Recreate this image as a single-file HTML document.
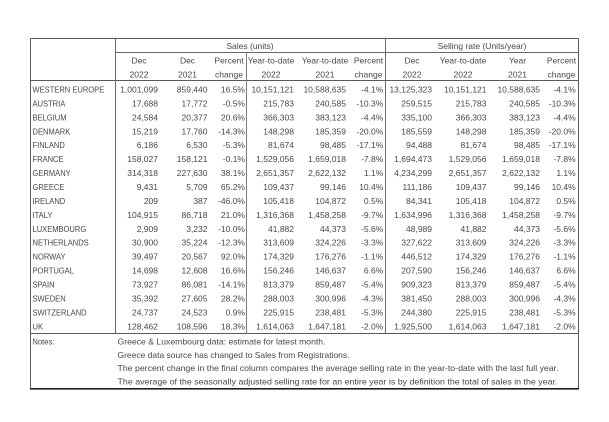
<!DOCTYPE html>
<html>
<head>
<meta charset="utf-8">
<style>
  html, body { margin: 0; padding: 0; background: #ffffff; }
  svg { display: block; }
  text { font-family: "Liberation Sans", Arial, sans-serif; font-size: 8.5px; fill: #474747; }
  .e { text-anchor: end; }
  .m { text-anchor: middle; }
</style>
</head>
<body>
<svg width="609" height="422" viewBox="0 0 609 422" xmlns="http://www.w3.org/2000/svg">
  <rect x="0" y="0" width="609" height="422" fill="#ffffff"/>

  <!-- grid lines -->
  <g stroke="#5a5a5a" stroke-width="1" fill="none">
    <line x1="30.5" y1="38.5" x2="578.5" y2="38.5"/>
    <line x1="30.5" y1="38.5" x2="30.5" y2="389"/>
    <line x1="578.5" y1="38.5" x2="578.5" y2="389"/>
    <line x1="115.5" y1="52.5" x2="578.5" y2="52.5" stroke="#6a6a6a"/>
    <line x1="30.5" y1="80.5" x2="578.5" y2="80.5"/>
    <line x1="30.5" y1="333.5" x2="578.5" y2="333.5"/>
    <line x1="115.5" y1="38.5" x2="115.5" y2="333.5" stroke="#6a6a6a"/>
    <line x1="246.5" y1="52.5" x2="246.5" y2="333.5" stroke="#7a7a7a"/>
    <line x1="385.5" y1="38.5" x2="385.5" y2="333.5" stroke="#6a6a6a"/>
  </g>
  <rect x="30" y="388" width="549" height="1.6" fill="#1e1e1e"/>

  <!-- header row 1 -->
  <text class="m" x="250" y="49">Sales (units)</text>
  <text class="m" x="482" y="49">Selling rate (Units/year)</text>

  <!-- header row 2 -->
  <text class="m" x="139" y="63.5">Dec</text>
  <text class="m" x="187.5" y="63.5">Dec</text>
  <text class="m" x="229" y="63.5">Percent</text>
  <text class="m" x="271" y="63.5">Year-to-date</text>
  <text class="m" x="325" y="63.5">Year-to-date</text>
  <text class="m" x="368.5" y="63.5">Percent</text>
  <text class="m" x="412" y="63.5">Dec</text>
  <text class="m" x="463" y="63.5">Year-to-date</text>
  <text class="m" x="517.5" y="63.5">Year</text>
  <text class="m" x="561.5" y="63.5">Percent</text>

  <!-- header row 3 -->
  <text class="m" x="139" y="77.7">2022</text>
  <text class="m" x="187.5" y="77.7">2021</text>
  <text class="m" x="229" y="77.7">change</text>
  <text class="m" x="271" y="77.7">2022</text>
  <text class="m" x="325" y="77.7">2021</text>
  <text class="m" x="368.5" y="77.7">change</text>
  <text class="m" x="412" y="77.7">2022</text>
  <text class="m" x="463" y="77.7">2022</text>
  <text class="m" x="517.5" y="77.7">2021</text>
  <text class="m" x="561.5" y="77.7">change</text>

  <!-- row labels -->
  <g transform="translate(32.5 0) scale(0.89 1)">
    <text x="0" y="92.5">WESTERN EUROPE</text>
    <text x="0" y="106.4">AUSTRIA</text>
    <text x="0" y="120.4">BELGIUM</text>
    <text x="0" y="134.3">DENMARK</text>
    <text x="0" y="148.2">FINLAND</text>
    <text x="0" y="162.2">FRANCE</text>
    <text x="0" y="176.1">GERMANY</text>
    <text x="0" y="190.0">GREECE</text>
    <text x="0" y="203.9">IRELAND</text>
    <text x="0" y="217.9">ITALY</text>
    <text x="0" y="231.8">LUXEMBOURG</text>
    <text x="0" y="245.7">NETHERLANDS</text>
    <text x="0" y="259.7">NORWAY</text>
    <text x="0" y="273.6">PORTUGAL</text>
    <text x="0" y="287.5">SPAIN</text>
    <text x="0" y="301.5">SWEDEN</text>
    <text x="0" y="315.4">SWITZERLAND</text>
    <text x="0" y="329.3">UK</text>
    <text x="0" y="344.7">Notes:</text>
  </g>

  <!-- data -->
  <g class="e">
    <!-- WESTERN EUROPE -->
    <text class="e" x="158" y="92.5">1,001,099</text>
    <text class="e" x="207.5" y="92.5">859,440</text>
    <text class="e" x="245" y="92.5">16.5%</text>
    <text class="e" x="294" y="92.5">10,151,121</text>
    <text class="e" x="346" y="92.5">10,588,635</text>
    <text class="e" x="383.3" y="92.5">-4.1%</text>
    <text class="e" x="432" y="92.5">13,125,323</text>
    <text class="e" x="486.5" y="92.5">10,151,121</text>
    <text class="e" x="540" y="92.5">10,588,635</text>
    <text class="e" x="575.7" y="92.5">-4.1%</text>
    <!-- AUSTRIA -->
    <text class="e" x="158" y="106.4">17,688</text>
    <text class="e" x="207.5" y="106.4">17,772</text>
    <text class="e" x="245" y="106.4">-0.5%</text>
    <text class="e" x="294" y="106.4">215,783</text>
    <text class="e" x="346" y="106.4">240,585</text>
    <text class="e" x="383.3" y="106.4">-10.3%</text>
    <text class="e" x="432" y="106.4">259,515</text>
    <text class="e" x="486.5" y="106.4">215,783</text>
    <text class="e" x="540" y="106.4">240,585</text>
    <text class="e" x="575.7" y="106.4">-10.3%</text>
    <!-- BELGIUM -->
    <text class="e" x="158" y="120.4">24,584</text>
    <text class="e" x="207.5" y="120.4">20,377</text>
    <text class="e" x="245" y="120.4">20.6%</text>
    <text class="e" x="294" y="120.4">366,303</text>
    <text class="e" x="346" y="120.4">383,123</text>
    <text class="e" x="383.3" y="120.4">-4.4%</text>
    <text class="e" x="432" y="120.4">335,100</text>
    <text class="e" x="486.5" y="120.4">366,303</text>
    <text class="e" x="540" y="120.4">383,123</text>
    <text class="e" x="575.7" y="120.4">-4.4%</text>
    <!-- DENMARK -->
    <text class="e" x="158" y="134.3">15,219</text>
    <text class="e" x="207.5" y="134.3">17,760</text>
    <text class="e" x="245" y="134.3">-14.3%</text>
    <text class="e" x="294" y="134.3">148,298</text>
    <text class="e" x="346" y="134.3">185,359</text>
    <text class="e" x="383.3" y="134.3">-20.0%</text>
    <text class="e" x="432" y="134.3">185,559</text>
    <text class="e" x="486.5" y="134.3">148,298</text>
    <text class="e" x="540" y="134.3">185,359</text>
    <text class="e" x="575.7" y="134.3">-20.0%</text>
    <!-- FINLAND -->
    <text class="e" x="158" y="148.2">6,186</text>
    <text class="e" x="207.5" y="148.2">6,530</text>
    <text class="e" x="245" y="148.2">-5.3%</text>
    <text class="e" x="294" y="148.2">81,674</text>
    <text class="e" x="346" y="148.2">98,485</text>
    <text class="e" x="383.3" y="148.2">-17.1%</text>
    <text class="e" x="432" y="148.2">94,488</text>
    <text class="e" x="486.5" y="148.2">81,674</text>
    <text class="e" x="540" y="148.2">98,485</text>
    <text class="e" x="575.7" y="148.2">-17.1%</text>
    <!-- FRANCE -->
    <text class="e" x="158" y="162.2">158,027</text>
    <text class="e" x="207.5" y="162.2">158,121</text>
    <text class="e" x="245" y="162.2">-0.1%</text>
    <text class="e" x="294" y="162.2">1,529,056</text>
    <text class="e" x="346" y="162.2">1,659,018</text>
    <text class="e" x="383.3" y="162.2">-7.8%</text>
    <text class="e" x="432" y="162.2">1,694,473</text>
    <text class="e" x="486.5" y="162.2">1,529,056</text>
    <text class="e" x="540" y="162.2">1,659,018</text>
    <text class="e" x="575.7" y="162.2">-7.8%</text>
    <!-- GERMANY -->
    <text class="e" x="158" y="176.1">314,318</text>
    <text class="e" x="207.5" y="176.1">227,630</text>
    <text class="e" x="245" y="176.1">38.1%</text>
    <text class="e" x="294" y="176.1">2,651,357</text>
    <text class="e" x="346" y="176.1">2,622,132</text>
    <text class="e" x="383.3" y="176.1">1.1%</text>
    <text class="e" x="432" y="176.1">4,234,299</text>
    <text class="e" x="486.5" y="176.1">2,651,357</text>
    <text class="e" x="540" y="176.1">2,622,132</text>
    <text class="e" x="575.7" y="176.1">1.1%</text>
    <!-- GREECE -->
    <text class="e" x="158" y="190.0">9,431</text>
    <text class="e" x="207.5" y="190.0">5,709</text>
    <text class="e" x="245" y="190.0">65.2%</text>
    <text class="e" x="294" y="190.0">109,437</text>
    <text class="e" x="346" y="190.0">99,146</text>
    <text class="e" x="383.3" y="190.0">10.4%</text>
    <text class="e" x="432" y="190.0">111,186</text>
    <text class="e" x="486.5" y="190.0">109,437</text>
    <text class="e" x="540" y="190.0">99,146</text>
    <text class="e" x="575.7" y="190.0">10.4%</text>
    <!-- IRELAND -->
    <text class="e" x="158" y="203.9">209</text>
    <text class="e" x="207.5" y="203.9">387</text>
    <text class="e" x="245" y="203.9">-46.0%</text>
    <text class="e" x="294" y="203.9">105,418</text>
    <text class="e" x="346" y="203.9">104,872</text>
    <text class="e" x="383.3" y="203.9">0.5%</text>
    <text class="e" x="432" y="203.9">84,341</text>
    <text class="e" x="486.5" y="203.9">105,418</text>
    <text class="e" x="540" y="203.9">104,872</text>
    <text class="e" x="575.7" y="203.9">0.5%</text>
    <!-- ITALY -->
    <text class="e" x="158" y="217.9">104,915</text>
    <text class="e" x="207.5" y="217.9">86,718</text>
    <text class="e" x="245" y="217.9">21.0%</text>
    <text class="e" x="294" y="217.9">1,316,368</text>
    <text class="e" x="346" y="217.9">1,458,258</text>
    <text class="e" x="383.3" y="217.9">-9.7%</text>
    <text class="e" x="432" y="217.9">1,634,996</text>
    <text class="e" x="486.5" y="217.9">1,316,368</text>
    <text class="e" x="540" y="217.9">1,458,258</text>
    <text class="e" x="575.7" y="217.9">-9.7%</text>
    <!-- LUXEMBOURG -->
    <text class="e" x="158" y="231.8">2,909</text>
    <text class="e" x="207.5" y="231.8">3,232</text>
    <text class="e" x="245" y="231.8">-10.0%</text>
    <text class="e" x="294" y="231.8">41,882</text>
    <text class="e" x="346" y="231.8">44,373</text>
    <text class="e" x="383.3" y="231.8">-5.6%</text>
    <text class="e" x="432" y="231.8">48,989</text>
    <text class="e" x="486.5" y="231.8">41,882</text>
    <text class="e" x="540" y="231.8">44,373</text>
    <text class="e" x="575.7" y="231.8">-5.6%</text>
    <!-- NETHERLANDS -->
    <text class="e" x="158" y="245.7">30,900</text>
    <text class="e" x="207.5" y="245.7">35,224</text>
    <text class="e" x="245" y="245.7">-12.3%</text>
    <text class="e" x="294" y="245.7">313,609</text>
    <text class="e" x="346" y="245.7">324,226</text>
    <text class="e" x="383.3" y="245.7">-3.3%</text>
    <text class="e" x="432" y="245.7">327,622</text>
    <text class="e" x="486.5" y="245.7">313,609</text>
    <text class="e" x="540" y="245.7">324,226</text>
    <text class="e" x="575.7" y="245.7">-3.3%</text>
    <!-- NORWAY -->
    <text class="e" x="158" y="259.7">39,497</text>
    <text class="e" x="207.5" y="259.7">20,567</text>
    <text class="e" x="245" y="259.7">92.0%</text>
    <text class="e" x="294" y="259.7">174,329</text>
    <text class="e" x="346" y="259.7">176,276</text>
    <text class="e" x="383.3" y="259.7">-1.1%</text>
    <text class="e" x="432" y="259.7">446,512</text>
    <text class="e" x="486.5" y="259.7">174,329</text>
    <text class="e" x="540" y="259.7">176,276</text>
    <text class="e" x="575.7" y="259.7">-1.1%</text>
    <!-- PORTUGAL -->
    <text class="e" x="158" y="273.6">14,698</text>
    <text class="e" x="207.5" y="273.6">12,608</text>
    <text class="e" x="245" y="273.6">16.6%</text>
    <text class="e" x="294" y="273.6">156,246</text>
    <text class="e" x="346" y="273.6">146,637</text>
    <text class="e" x="383.3" y="273.6">6.6%</text>
    <text class="e" x="432" y="273.6">207,590</text>
    <text class="e" x="486.5" y="273.6">156,246</text>
    <text class="e" x="540" y="273.6">146,637</text>
    <text class="e" x="575.7" y="273.6">6.6%</text>
    <!-- SPAIN -->
    <text class="e" x="158" y="287.5">73,927</text>
    <text class="e" x="207.5" y="287.5">86,081</text>
    <text class="e" x="245" y="287.5">-14.1%</text>
    <text class="e" x="294" y="287.5">813,379</text>
    <text class="e" x="346" y="287.5">859,487</text>
    <text class="e" x="383.3" y="287.5">-5.4%</text>
    <text class="e" x="432" y="287.5">909,323</text>
    <text class="e" x="486.5" y="287.5">813,379</text>
    <text class="e" x="540" y="287.5">859,487</text>
    <text class="e" x="575.7" y="287.5">-5.4%</text>
    <!-- SWEDEN -->
    <text class="e" x="158" y="301.5">35,392</text>
    <text class="e" x="207.5" y="301.5">27,605</text>
    <text class="e" x="245" y="301.5">28.2%</text>
    <text class="e" x="294" y="301.5">288,003</text>
    <text class="e" x="346" y="301.5">300,996</text>
    <text class="e" x="383.3" y="301.5">-4.3%</text>
    <text class="e" x="432" y="301.5">381,450</text>
    <text class="e" x="486.5" y="301.5">288,003</text>
    <text class="e" x="540" y="301.5">300,996</text>
    <text class="e" x="575.7" y="301.5">-4.3%</text>
    <!-- SWITZERLAND -->
    <text class="e" x="158" y="315.4">24,737</text>
    <text class="e" x="207.5" y="315.4">24,523</text>
    <text class="e" x="245" y="315.4">0.9%</text>
    <text class="e" x="294" y="315.4">225,915</text>
    <text class="e" x="346" y="315.4">238,481</text>
    <text class="e" x="383.3" y="315.4">-5.3%</text>
    <text class="e" x="432" y="315.4">244,380</text>
    <text class="e" x="486.5" y="315.4">225,915</text>
    <text class="e" x="540" y="315.4">238,481</text>
    <text class="e" x="575.7" y="315.4">-5.3%</text>
    <!-- UK -->
    <text class="e" x="158" y="329.3">128,462</text>
    <text class="e" x="207.5" y="329.3">108,596</text>
    <text class="e" x="245" y="329.3">18.3%</text>
    <text class="e" x="294" y="329.3">1,614,063</text>
    <text class="e" x="346" y="329.3">1,647,181</text>
    <text class="e" x="383.3" y="329.3">-2.0%</text>
    <text class="e" x="432" y="329.3">1,925,500</text>
    <text class="e" x="486.5" y="329.3">1,614,063</text>
    <text class="e" x="540" y="329.3">1,647,181</text>
    <text class="e" x="575.7" y="329.3">-2.0%</text>
  </g>

  <!-- notes -->
  <text x="117.5" y="344.7" textLength="208" lengthAdjust="spacingAndGlyphs">Greece &amp; Luxembourg data: estimate for latest month.</text>
  <text x="117.5" y="357.9" textLength="232" lengthAdjust="spacingAndGlyphs">Greece data source has changed to Sales from Registrations.</text>
  <text x="117.5" y="371.1" textLength="441" lengthAdjust="spacingAndGlyphs">The percent change in the final column compares the average selling rate in the year-to-date with the last full year.</text>
  <text x="117.5" y="384.3" textLength="440" lengthAdjust="spacingAndGlyphs">The average of the seasonally adjusted selling rate for an entire year is by definition the total of sales in the year.</text>
</svg>
</body>
</html>
